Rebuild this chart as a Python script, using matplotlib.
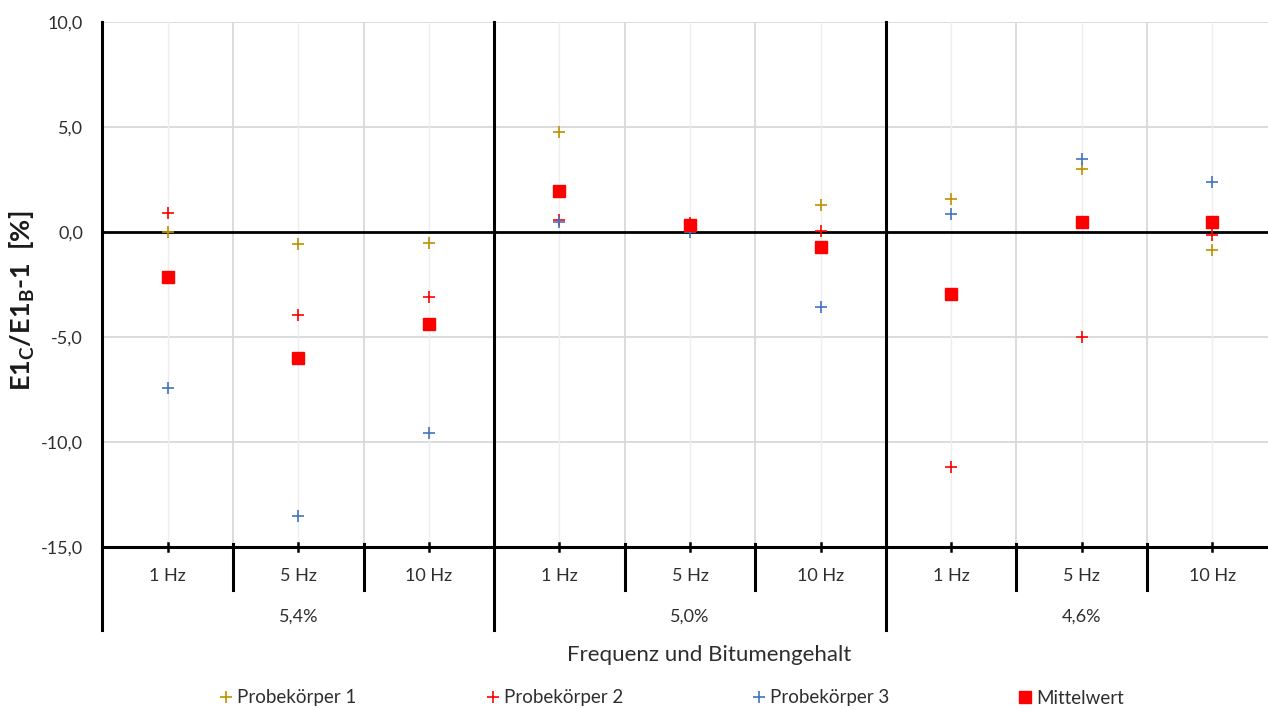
import matplotlib
matplotlib.use("Agg")
import matplotlib.pyplot as plt
from matplotlib.lines import Line2D

plt.rcParams["font.family"] = ["Lato", "DejaVu Sans"]
plt.rcParams["mathtext.fontset"] = "custom"
plt.rcParams["mathtext.rm"] = "Lato:bold"
plt.rcParams["mathtext.bf"] = "Lato:bold"
plt.rcParams["mathtext.it"] = "Lato:bold"

# Categories: frequency within each bitumen content group
frequencies = ["1 Hz", "5 Hz", "10 Hz", "1 Hz", "5 Hz", "10 Hz", "1 Hz", "5 Hz", "10 Hz"]
groups = ["5,4%", "5,0%", "4,6%"]

# Relative deviation E1_C/E1_B - 1 in percent
probe1 = [0.0, -0.57, -0.5, 4.75, 0.33, 1.3, 1.55, 3.0, -0.86]
probe2 = [0.9, -3.95, -3.1, 0.55, 0.42, 0.05, -11.2, -5.0, -0.14]
probe3 = [-7.45, -13.5, -9.55, 0.48, 0.0, -3.55, 0.85, 3.5, 2.38]
mittel = [-2.15, -6.0, -4.38, 1.95, 0.33, -0.7, -2.93, 0.5, 0.46]

y_ticks = [10, 5, 0, -5, -10, -15]

c_p1 = "#BF9000"
c_p2 = "#FF0000"
c_p3 = "#4472C4"
c_mw = "#FF0000"
txt = "#2E2E2E"

W, H = 1268, 709
fig = plt.figure(figsize=(W / 100, H / 100), dpi=100)
left, right, top, bottom = 102.4, 1277.6, 22, 547
ax = fig.add_axes([left / W, 1 - bottom / H, (right - left) / W, (bottom - top) / H])

n = len(frequencies)
x = list(range(1, n + 1))
ax.set_xlim(0.5, n + 0.5)
ax.set_ylim(-15, 10)

for s in ax.spines.values():
    s.set_visible(False)

# gridlines
for yv in y_ticks:
    if yv not in (0, -15):
        ax.axhline(yv, color="#D9D9D9", lw=1.3, zorder=0)
for xv in x:
    ax.axvline(xv, color="#EEEEEE", lw=1.0, zorder=0)
for k in range(1, n):
    if k % 3 != 0:
        ax.axvline(k + 0.5, color="#D9D9D9", lw=1.3, zorder=0)

ax.axhline(0, color="black", lw=2.0, zorder=1)
ax.axhline(-15, color="black", lw=2.2, zorder=1, clip_on=False)

# px -> data conversion for the area below the plot
upp = 25.0 / (bottom - top)

def ypx(py):
    return -15 - (py - bottom) * upp

# left axis line and group separators run down through the category labels
for xv in [0.5, 3.5, 6.5]:
    ax.plot([xv, xv], [10, ypx(630)], color="black", lw=2.2, clip_on=False, zorder=3)
# separators between frequency labels
for k in range(1, n):
    if k % 3 != 0:
        ax.plot([k + 0.5, k + 0.5], [ypx(544), ypx(590)], color="black", lw=2.2,
                clip_on=False, zorder=3)
# tick marks at category centres
for xv in x:
    ax.plot([xv, xv], [ypx(543), ypx(551)], color="black", lw=1.8, clip_on=False, zorder=3)

fs = 13
for xv, lab in zip(x, frequencies):
    ax.text(xv, ypx(576), lab, ha="center", va="center", fontsize=fs, color=txt)
for g, lab in enumerate(groups):
    ax.text(3 * g + 2, ypx(617), lab, ha="center", va="center", fontsize=fs, color=txt)

ax.set_xticks([])
ax.set_yticks(y_ticks)
ax.set_yticklabels([f"{v:.1f}".replace(".", ",") for v in y_ticks], fontsize=fs, color=txt)
ax.tick_params(axis="y", length=0, pad=14)

# data
ms_plus, mew_plus, ms_sq = 9, 1.2, 8.5
ax.plot(x, probe1, ls="none", marker="+", ms=ms_plus, mew=mew_plus, color=c_p1, zorder=4, clip_on=False)
ax.plot(x, probe2, ls="none", marker="+", ms=ms_plus, mew=mew_plus, color=c_p2, zorder=4, clip_on=False)
ax.plot(x, probe3, ls="none", marker="+", ms=ms_plus, mew=mew_plus, color=c_p3, zorder=4, clip_on=False)
ax.plot(x, mittel, ls="none", marker="s", ms=ms_sq, color=c_mw, zorder=5, clip_on=False)

fig.text(22 / W, 1 - 301 / H, r"E1$_\mathrm{C}$/E1$_\mathrm{B}$-1  [%]", rotation=90,
         ha="center", va="center", fontsize=19.5, fontweight="bold", color="#1A1A1A")
fig.text(709 / W, 1 - 655 / H, "Frequenz und Bitumengehalt", ha="center", va="center",
         fontsize=16, color=txt)

handles = [
    Line2D([], [], ls="none", marker="+", ms=ms_plus, mew=mew_plus, color=c_p1),
    Line2D([], [], ls="none", marker="+", ms=ms_plus, mew=mew_plus, color=c_p2),
    Line2D([], [], ls="none", marker="+", ms=ms_plus, mew=mew_plus, color=c_p3),
    Line2D([], [], ls="none", marker="s", ms=ms_sq, color=c_mw),
]
lfs = 13.5
lpx = lfs * 100 / 72
fig.legend(handles, ["Probekörper 1", "Probekörper 2", "Probekörper 3", "Mittelwert"],
           ncol=4, loc="center left", bbox_to_anchor=((226 - 0.3 * lpx) / W, 1 - 698 / H),
           frameon=False, fontsize=lfs, handlelength=0.6, handletextpad=0.3,
           columnspacing=6.95, borderpad=0, borderaxespad=0, labelcolor=txt)

fig.savefig("out.png", dpi=100)
